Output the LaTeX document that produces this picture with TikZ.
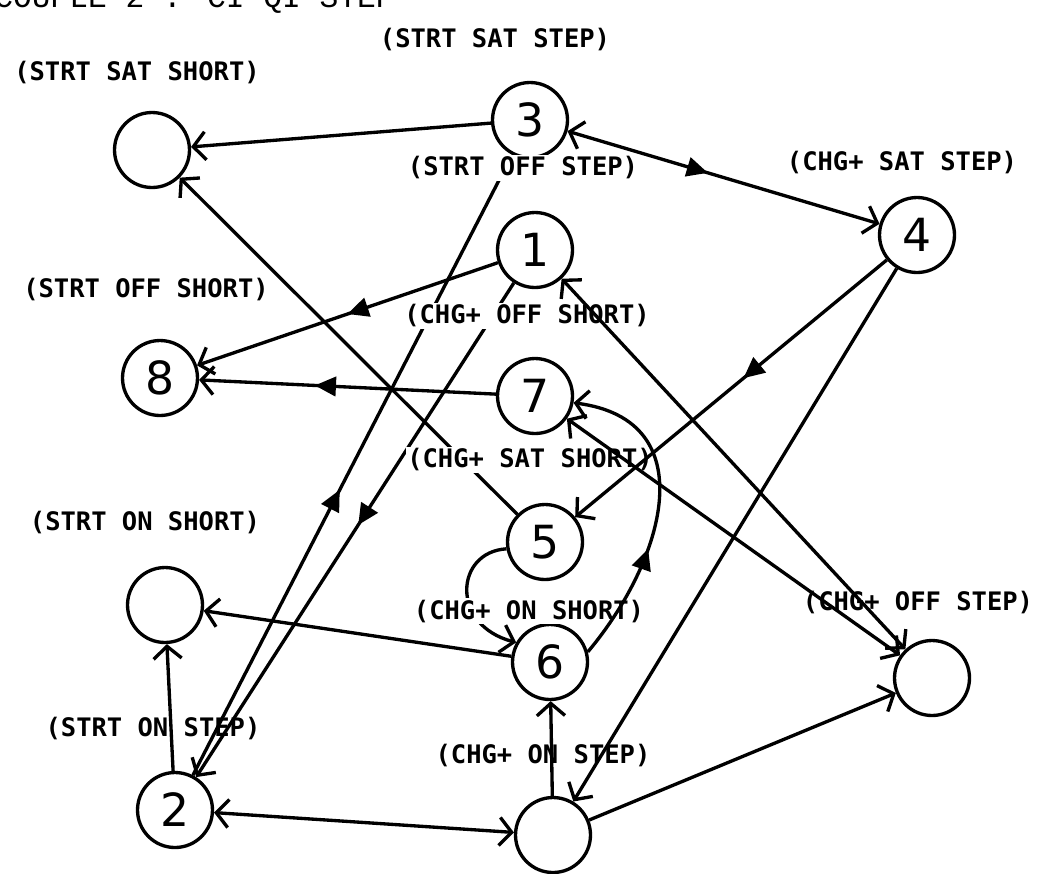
\documentclass[tikz,border=0pt]{standalone}
\usepackage{fontspec}
\usepackage{tikz}
\usetikzlibrary{arrows.meta,decorations.markings}
\newfontfamily\tagfont{DejaVu Sans Mono}
\newfontfamily\digitfont{DejaVu Sans}
\newfontfamily\headfont{Liberation Mono}

\begin{document}
\begin{tikzpicture}[
    x=0.02cm, y=-0.02cm,
    state/.style={
      circle, draw, line width=1.9pt, minimum size=1.5cm, inner sep=0pt,
      font=\digitfont\fontsize{26}{26}\selectfont
    },
    tag/.style={inner sep=0.8pt, font=\tagfont\bfseries\fontsize{14.5}{16}\selectfont},
    cuttag/.style={tag, fill=white},
    trans/.style={-{Straight Barb[length=7pt,width=16pt]}, line width=1.9pt},
    twoway/.style={{Straight Barb[length=7pt,width=16pt]}-{Straight Barb[length=7pt,width=16pt]}, line width=1.9pt},
    flow/.style={postaction={decorate}, decoration={markings,
      mark=at position #1 with {\arrow{Triangle[length=12pt,width=11pt]}}}}
  ]
    \useasboundingbox (0,0) rectangle (1044,873);
    \clip (0,0) rectangle (1044,873);
    % title line, cut off at the top
    \node[anchor=base west, inner sep=0pt, font=\headfont\fontsize{17.8}{18}\selectfont] (head) at (-6,7) {COUPLE 2 : CI QI STEP};
    % states
    \node[state] (satshort) at (152,150) {};
    \node[state] (n3) at (530,120) {3};
    \node[state] (n4) at (917,235) {4};
    \node[state] (n1) at (535,250) {1};
    \node[state] (n8) at (160,378) {8};
    \node[state] (n7) at (535,396) {7};
    \node[state] (n5) at (545,542) {5};
    \node[state] (onshort) at (165,605) {};
    \node[state] (n6) at (550,662) {6};
    \node[state] (offstep) at (932,678) {};
    \node[state] (n2) at (175,810) {2};
    \node[state] (onstep) at (553,835) {};
    % transitions broken by the labels
    \draw[trans, flow=0.46] (n2) -- (n3);
    \draw[trans, flow=0.49] (n1) -- (n2);
    \draw[trans] (n5) -- (satshort);
    \draw[trans, flow=0.7] (n5.190) .. controls (455,552) and (450,625) .. (n6.150);
    % labels
    \node[tag] (lstrtsatstep) at (495,40) {(STRT SAT STEP)};
    \node[tag] (lstrtsatshort) at (137,73) {(STRT SAT SHORT)};
    \node[cuttag] (lstrtoffstep) at (523,168) {(STRT OFF STEP)};
    \node[tag] (lchgsatstep) at (902,163) {(CHG+ SAT STEP)};
    \node[cuttag] (lstrtoffshort) at (146,290) {(STRT OFF SHORT)};
    \node[cuttag] (lchgoffshort) at (527,316) {(CHG+ OFF SHORT)};
    \node[cuttag] (lchgsatshort) at (530,460) {(CHG+ SAT SHORT)};
    \node[tag] (lstrtonshort) at (145,523) {(STRT ON SHORT)};
    \node[cuttag] (lchgonshort) at (529,611) {(CHG+ ON SHORT)};
    \node[tag] (lchgoffstep) at (918,602) {(CHG+ OFF STEP)};
    \node[tag] (lstrtonstep) at (153,728) {(STRT ON STEP)};
    \node[tag] (lchgonstep) at (543,755) {(CHG+ ON STEP)};
    % other transitions
    \draw[trans] (n3) -- (satshort);
    \draw[twoway, flow=0.45] (n3) -- (n4);
    \draw[trans, flow=0.5] (n1) -- (n8);
    \draw[trans, flow=0.61] (n7) -- (n8);
    \draw[trans, flow=0.46] (n4) -- (n5);
    \draw[trans] (n4) -- (onstep);
    \draw[twoway] (n1) -- (offstep);
    \draw[twoway] (n7) -- (offstep);
    \draw[trans, flow=0.38] (n6.15) .. controls (665,560) and (705,420) .. (n7.-10);
    \draw[trans] (n6) -- (onshort);
    \draw[trans] (n2) -- (onshort);
    \draw[trans] (onstep) -- (n6);
    \draw[twoway] (n2) -- (onstep);
    \draw[trans] (onstep) -- (offstep);
  \end{tikzpicture}
\end{document}
